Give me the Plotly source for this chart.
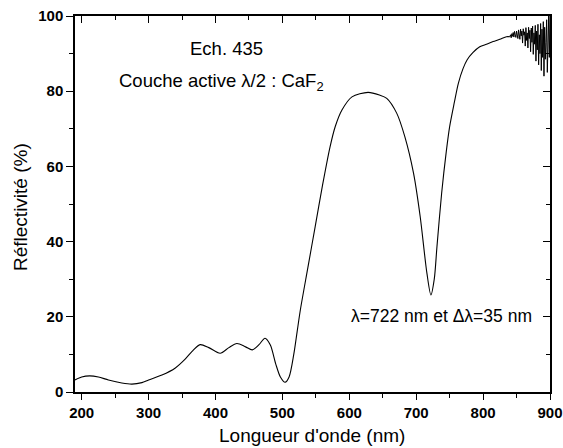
import plotly.graph_objects as go

# Smooth part of the reflectivity spectrum (wavelength nm, reflectivity %)
wl_smooth = [190, 200, 212, 225, 240, 260, 275, 290, 300, 320, 340, 355, 365, 377,
             390, 407, 420, 432, 445, 455, 465, 474, 482, 490, 497, 504, 510, 517,
             522, 527, 538, 549, 560, 571, 579, 589, 604, 628, 645, 656, 671, 683,
             696, 706, 716, 722, 727, 731, 738, 745, 750, 757, 763, 770, 776, 785,
             795, 805, 815, 825, 835, 840]
r_smooth = [3.2, 4.0, 4.3, 4.0, 3.2, 2.4, 2.1, 2.5, 3.2, 4.5, 6.4, 8.8, 10.8, 12.6,
            11.8, 10.3, 11.8, 12.9, 12.0, 11.2, 12.6, 14.3, 12.5, 7.5, 4.0, 2.6, 4.0, 10.0,
            16.0, 22.0, 33.0, 44.0, 55.0, 65.0, 70.6, 75.0, 78.5, 79.7, 79.0, 78.1, 74.1, 67.9,
            58.2, 46.6, 31.6, 25.8, 30.0, 38.6, 52.8, 64.0, 70.6, 77.0, 82.1, 86.0, 88.3, 90.3,
            91.8, 92.5, 93.2, 93.8, 94.5, 94.5]

# Noisy end of the spectrum
wl_noisy = [840, 841, 842, 843, 844, 845, 846, 847, 848, 849, 850, 851, 852, 853, 854,
            855, 856, 857, 858, 859, 860, 861, 862, 863, 864, 865, 866, 867, 868, 869,
            870, 871, 872, 873, 874, 875, 876, 877, 878, 879, 880, 881, 882, 883, 884,
            885, 886, 887, 888, 889, 890, 891, 892, 893, 894, 895, 896, 897, 898, 899, 900]
r_noisy = [94.5, 95.0, 94.2, 95.3, 94.6, 95.6, 94.4, 95.9, 95.0, 94.3, 96.0, 95.1, 94.0, 96.3, 95.2,
           93.8, 96.5, 94.7, 96.0, 92.8, 96.6, 94.9, 95.8, 92.0, 96.9, 93.5, 95.5, 91.5, 97.0, 94.0,
           96.2, 90.5, 96.8, 93.0, 97.3, 89.8, 95.5, 92.5, 97.5, 88.0, 96.0, 91.0, 97.8, 87.0, 95.0,
           90.0, 98.0, 85.5, 96.5, 89.0, 98.5, 84.0, 97.0, 88.5, 93.0, 99.0, 85.0, 97.5, 100.0, 89.0, 100.0]

x_ticks = [200, 300, 400, 500, 600, 700, 800, 900]
y_ticks = [0, 20, 40, 60, 80, 100]

FONT = "Liberation Sans, Arial, sans-serif"

fig = go.Figure()
fig.add_trace(go.Scatter(x=wl_smooth, y=r_smooth, mode="lines",
                         line=dict(color="black", width=1.1, shape="spline", smoothing=0.8),
                         showlegend=False, hoverinfo="skip"))
fig.add_trace(go.Scatter(x=wl_noisy, y=r_noisy, mode="lines",
                         line=dict(color="black", width=1.0),
                         showlegend=False, hoverinfo="skip"))
# dummy traces so the mirrored (inside-tick) axes are drawn
fig.add_trace(go.Scatter(x=[None], y=[None], xaxis="x2", yaxis="y", showlegend=False, hoverinfo="skip"))
fig.add_trace(go.Scatter(x=[None], y=[None], xaxis="x", yaxis="y2", showlegend=False, hoverinfo="skip"))

tickfont = dict(family=FONT, size=15, color="black", weight="bold")

common = dict(showline=True, linecolor="black", linewidth=1.5, showgrid=False,
              zeroline=False, automargin=False, tickcolor="black", tickwidth=1.3)

fig.update_layout(
    width=563, height=448,
    margin=dict(l=75, r=13, t=16, b=56, autoexpand=False),
    paper_bgcolor="white", plot_bgcolor="white",
    xaxis=dict(range=[190, 900], tickvals=x_ticks, ticktext=[str(v) for v in x_ticks],
               ticks="outside", ticklen=6,
               minor=dict(dtick=50, tick0=200, ticks="outside", ticklen=4, tickwidth=1.3, tickcolor="black"),
               tickfont=tickfont, **common),
    xaxis2=dict(range=[190, 900], overlaying="x", side="top", anchor="y",
                tickvals=x_ticks, showticklabels=False, ticks="inside", ticklen=7,
                minor=dict(dtick=50, tick0=200, ticks="inside", ticklen=4, tickwidth=1.3, tickcolor="black"),
                **common),
    yaxis=dict(range=[0, 100], tickvals=y_ticks, ticktext=[str(v) for v in y_ticks],
               ticks="outside", ticklen=7,
               minor=dict(dtick=10, tick0=0, ticks="outside", ticklen=4, tickwidth=1.3, tickcolor="black"),
               tickfont=tickfont, **common),
    yaxis2=dict(range=[0, 100], overlaying="y", side="right", anchor="x",
                tickvals=y_ticks, showticklabels=False, ticks="inside", ticklen=7,
                minor=dict(dtick=10, tick0=0, ticks="inside", ticklen=4, tickwidth=1.3, tickcolor="black"),
                **common),
)

# pixel helpers for text placement (plot area: x 75..550, y 16..392)
def px_x(p):
    return (p - 75) / 475.0

def px_y(p):
    return (392 - p) / 376.0

def text(xp, yp, s, size, xanchor="center", angle=0):
    fig.add_annotation(x=px_x(xp), y=px_y(yp), xref="paper", yref="paper",
                       text=s, showarrow=False, textangle=angle,
                       xanchor=xanchor, yanchor="middle",
                       font=dict(family=FONT, size=size, color="black"))

# axis titles
text(312, 435, "Longueur d'onde (nm)", 19)
text(20, 207, "Réflectivité (%)", 19, angle=-90)

# in-plot labels
text(226, 48, "Ech. 435", 18.5)
text(117, 82, "Couche active λ/2 : CaF<sub>2</sub>", 18.5, xanchor="left")
text(349, 316, "λ=722 nm et Δλ=35 nm", 17.5, xanchor="left")

fig.write_html("out.html", config={"displayModeBar": False},
               post_script="document.body.style.margin='0';")
